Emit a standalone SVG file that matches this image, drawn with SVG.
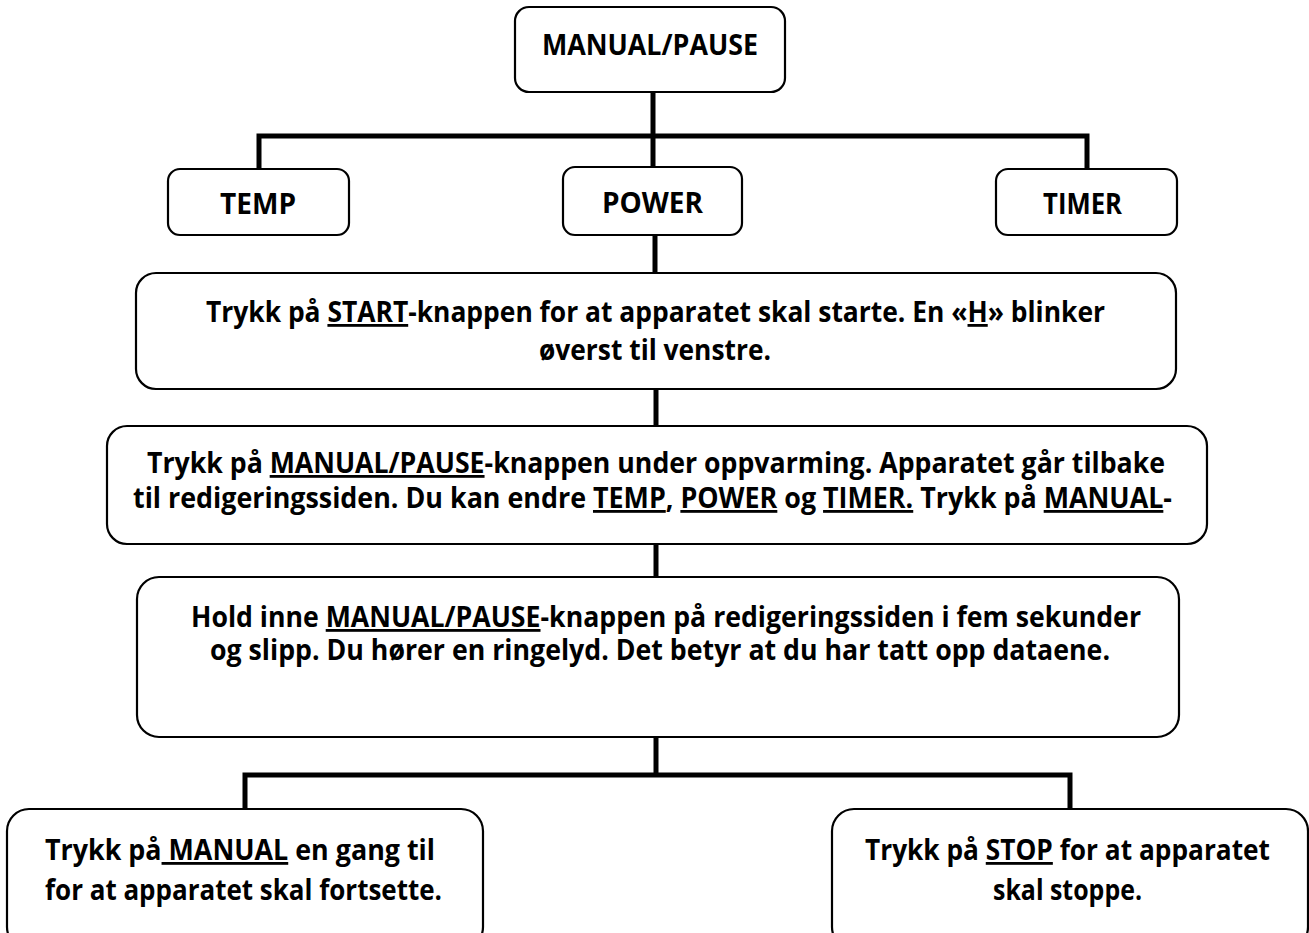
<svg xmlns="http://www.w3.org/2000/svg" width="1309" height="933" viewBox="0 0 1309 933">
<style>
.box{fill:#fff;stroke:#000;stroke-width:2.2}
.t{font-family:"Open Sans","Liberation Sans",sans-serif;font-weight:700;font-size:28px;fill:#000}
.u{text-decoration:underline}
.c{stroke:#000;stroke-width:5;fill:none;stroke-linecap:butt}
</style>
<rect width="1309" height="933" fill="#fff"/>
<g id="connectors">
<line class="c" x1="653" y1="92" x2="653" y2="167"/>
<polyline class="c" points="259,169 259,136 1087,136 1087,169"/>
<line class="c" x1="655" y1="236" x2="655" y2="273"/>
<line class="c" x1="656" y1="390" x2="656" y2="427"/>
<line class="c" x1="656" y1="544" x2="656" y2="578"/>
<line class="c" x1="656" y1="737" x2="656" y2="775"/>
<polyline class="c" points="245,808 245,775 1070,775 1070,808"/>
</g>
<g id="manual-pause">
<rect class="box" x="515" y="7" width="270" height="85" rx="14"/>
<text class="t" x="542" y="55" textLength="216" lengthAdjust="spacingAndGlyphs">MANUAL/PAUSE</text>
</g>
<g id="temp">
<rect class="box" x="168" y="169" width="181" height="66" rx="12"/>
<text class="t" x="220" y="214" textLength="76" lengthAdjust="spacingAndGlyphs">TEMP</text>
</g>
<g id="power">
<rect class="box" x="563" y="167" width="179" height="68" rx="12"/>
<text class="t" x="602" y="213" textLength="101" lengthAdjust="spacingAndGlyphs">POWER</text>
</g>
<g id="timer">
<rect class="box" x="996" y="169" width="181" height="66" rx="12"/>
<text class="t" x="1043" y="214" textLength="79" lengthAdjust="spacingAndGlyphs">TIMER</text>
</g>
<g id="start">
<rect class="box" x="136" y="273" width="1040" height="116" rx="20"/>
<text class="t" x="206" y="322" textLength="899" lengthAdjust="spacingAndGlyphs">Trykk på <tspan class="u">START</tspan>-knappen for at apparatet skal starte. En «<tspan class="u">H</tspan>» blinker</text>
<text class="t" x="539" y="360" textLength="232" lengthAdjust="spacingAndGlyphs">øverst til venstre.</text>
</g>
<g id="pause-edit">
<rect class="box" x="107" y="426" width="1100" height="118" rx="20"/>
<text class="t" x="147" y="473" textLength="1018" lengthAdjust="spacingAndGlyphs">Trykk på <tspan class="u">MANUAL/PAUSE</tspan>-knappen under oppvarming. Apparatet går tilbake</text>
<text class="t" x="133" y="508" textLength="1039" lengthAdjust="spacingAndGlyphs">til redigeringssiden. Du kan endre <tspan class="u">TEMP</tspan>, <tspan class="u">POWER</tspan> og <tspan class="u">TIMER.</tspan> Trykk på <tspan class="u">MANUAL</tspan>-</text>
</g>
<g id="hold">
<rect class="box" x="137" y="577" width="1042" height="160" rx="22"/>
<text class="t" x="191" y="627" textLength="950" lengthAdjust="spacingAndGlyphs">Hold inne <tspan class="u">MANUAL/PAUSE</tspan>-knappen på redigeringssiden i fem sekunder</text>
<text class="t" x="210" y="660" textLength="900" lengthAdjust="spacingAndGlyphs">og slipp. Du hører en ringelyd. Det betyr at du har tatt opp dataene.</text>
</g>
<g id="continue">
<rect class="box" x="7" y="809" width="476" height="140" rx="22"/>
<text class="t" x="45" y="860" textLength="390" lengthAdjust="spacingAndGlyphs">Trykk på<tspan class="u"> MANUAL</tspan> en gang til</text>
<text class="t" x="45" y="900" textLength="397" lengthAdjust="spacingAndGlyphs">for at apparatet skal fortsette.</text>
</g>
<g id="stop">
<rect class="box" x="832" y="809" width="476" height="140" rx="22"/>
<text class="t" x="865" y="860" textLength="405" lengthAdjust="spacingAndGlyphs">Trykk på <tspan class="u">STOP</tspan> for at apparatet</text>
<text class="t" x="993" y="900" textLength="149" lengthAdjust="spacingAndGlyphs">skal stoppe.</text>
</g>
</svg>
